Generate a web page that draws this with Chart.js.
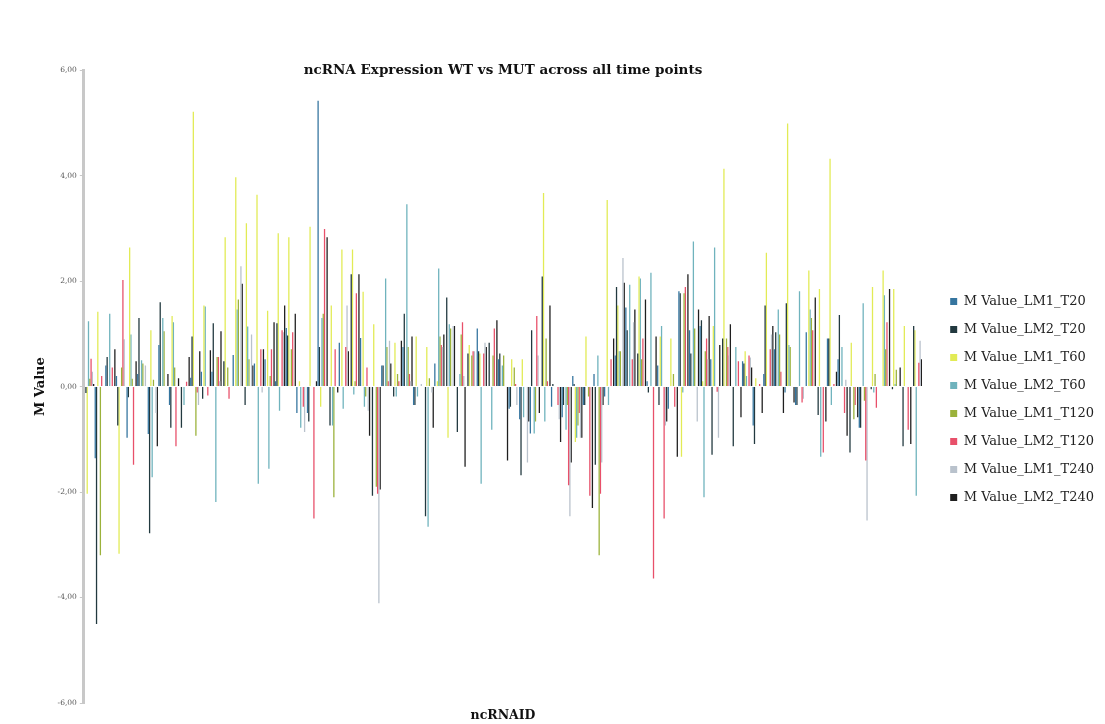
<!DOCTYPE html>
<html>
<head>
<meta charset="utf-8">
<script src="https://cdn.jsdelivr.net/npm/chart.js@4.4.1/dist/chart.umd.min.js"></script>
<style>
html,body{margin:0;padding:0;background:#fff;}
#wrap{width:1105px;height:724px;position:relative;}
</style>
</head>
<body>
<div id="wrap"><canvas id="c" width="1105" height="724"></canvas></div>
<script>
const categories = ['nc01','nc02','nc03','nc04','nc05','nc06','nc07','nc08','nc09','nc10',
'nc11','nc12','nc13','nc14','nc15','nc16','nc17','nc18','nc19','nc20',
'nc21','nc22','nc23','nc24','nc25','nc26','nc27','nc28','nc29','nc30',
'nc31','nc32','nc33','nc34','nc35','nc36','nc37','nc38','nc39','nc40',
'nc41','nc42','nc43','nc44','nc45','nc46','nc47','nc48','nc49','nc50',
'nc51','nc52','nc53','nc54','nc55','nc56','nc57','nc58','nc59','nc60',
'nc61','nc62','nc63','nc64','nc65','nc66','nc67','nc68','nc69','nc70',
'nc71','nc72','nc73','nc74','nc75','nc76','nc77','nc78','nc79'];

const seriesNames = ['M Value_LM1_T20','M Value_LM2_T20','M Value_LM1_T60','M Value_LM2_T60',
'M Value_LM1_T120','M Value_LM2_T120','M Value_LM1_T240','M Value_LM2_T240'];

const LM1_T20 = [0,-1.36,0.4,0.2,-0.97,0.24,-0.9,0.79,-0.35,0,
0.17,0.28,0.28,0,0.6,0,0.44,0.52,0.1,1.11,
-0.5,-0.5,5.42,0,0.83,0,0.92,0,0.4,0,
0.75,-0.35,0,0.44,0,0,0,1.1,0,0.52,
-0.42,-0.62,-0.89,0,-0.38,-0.58,0.2,-0.35,0.24,-0.19,
0.59,1.5,0,0.1,0.4,-0.42,1.81,1.07,1.15,0.52,
0,0,0.48,-0.74,0.24,0.71,-0.11,-0.35,1.03,0,
0.91,0.52,0,-0.78,0,0,0,0,0];

const LM2_T20 = [-0.12,-4.5,0.56,-0.74,-0.2,1.3,-2.78,1.6,-0.78,-0.78,
0.95,-0.23,1.2,0.48,0,-0.35,0,0,1.2,0.97,
0,-0.66,0.75,-0.74,0,2.13,0,-2.07,0.4,-0.19,
1.38,-0.35,-2.46,0,1.69,-0.86,0.63,0.67,0.83,0.63,
-0.38,-1.68,1.07,2.09,0.05,-0.35,0.05,-0.35,-1.48,0,
1.89,1.07,0.63,-0.11,-0.35,0,1.77,0.63,1.26,-1.29,
0.91,-1.13,0.44,-1.09,1.54,1.03,1.58,-0.35,0,-0.54,
0.91,1.36,-1.25,-0.78,-0.05,0,-0.05,-1.13,1.15];

const LM1_T60 = [-2.03,1.42,0,-3.17,2.64,0,1.07,0,1.34,0,
5.21,1.54,0,2.83,3.97,3.1,3.64,1.44,2.91,2.83,
0.1,3.03,-0.38,1.54,2.6,2.6,1.8,1.18,0,0.83,
0,0.95,0.75,0.1,-0.97,0,0.79,0.63,0,0,
0.52,0.52,0,3.67,0,0,-1.05,0.95,0,3.54,
1.54,0,2.09,0,0.95,0.91,-1.33,0,0.1,1.15,
4.13,0,0.67,0.16,2.54,0,4.99,0,2.2,1.85,
4.32,0,0.83,0,1.89,2.2,1.85,1.15,1.07];

const LM2_T60 = [1.24,0,1.38,0,0.99,0.5,-1.72,1.3,1.22,-0.35,
0,1.52,-2.19,0,1.46,1.14,-1.84,-1.56,-0.46,0,
-0.78,0,1.3,-0.74,-0.42,-0.15,-0.38,0,2.05,-0.19,
3.46,-0.19,-2.66,2.24,1.18,0.24,0,-1.84,-0.82,0.4,
0,-0.58,-0.89,-0.66,0,-0.82,-0.97,0,0.59,-0.35,
0.67,1.93,2.05,2.16,1.15,0,-0.11,2.75,-2.1,2.64,
0,0.75,0.2,0,0,1.46,0.79,1.81,1.46,-1.33,
-0.35,0.75,0,1.58,-0.11,1.73,0.05,0,-2.07];

const LM1_T120 = [0.15,-3.2,0,0.36,0.15,0.44,0.13,1.05,0.36,0,
-0.93,0,0.56,0.36,1.65,0.52,0,0.2,0,0.71,
0,0,1.38,-2.1,0,0.1,-0.19,-1.9,0.75,0.24,
0.75,0,0.16,0.95,1.1,0.99,0.59,0,0.59,0.59,
0.36,0,-0.66,0.91,0,-0.35,-0.74,-0.19,-3.2,0,
0.67,0,0.52,0,0,0.24,1.77,1.1,0.67,0,
0.91,0,0,0,0,0.99,0.75,0,1.3,0,
0,0,-0.62,-0.27,0.24,0.71,0.32,0,0];

const LM2_T120 = [0.53,0.2,0.36,2.02,-1.48,0,0,0,-1.13,0.09,
-0.11,-0.17,0.56,-0.23,0,0,0.71,0.71,1.07,1.03,
-0.38,-2.5,2.99,0.71,0.75,1.77,0.36,-2.03,0.1,0.1,
0.24,0,0,0.79,0,1.22,0.67,0.63,1.1,0,
0.05,0,1.34,0.1,-0.35,-1.87,-0.5,-2.07,-2.03,0.52,
0,0.52,0.91,-3.64,-2.5,-0.38,1.89,0,0.91,-0.1,
0.75,0.48,0.59,0.05,0.71,0.28,0,-0.3,1.07,-1.25,
0.05,-0.5,-0.35,-1.4,-0.4,1.22,0,-0.82,0.45];

const LM1_T240 = [0.28,0,0,0.9,0,0.4,-0.5,0,0,0,
-0.35,0,0.1,0,2.28,0.99,-0.11,0,1.03,0,
-0.86,0,0,0,1.54,0,-0.46,-4.11,0.87,0,
0.1,0.05,-0.11,0.75,1.15,0.2,0.67,0.83,0,0,
-0.35,-1.44,0.59,0,-0.62,-2.46,-0.97,0,-1.44,0,
2.44,1.22,0,0,-0.74,0,0,-0.66,0.52,-0.97,
0.59,0,0.55,0,0.99,0,0,-0.23,0,0,
0,0.13,0,-2.54,0,0,0,0,0.87];

const LM2_T240 = [0.05,0,0.71,0,0.48,0,-1.13,0.24,0.16,0.56,
0.67,0.69,1.05,0,1.95,0.4,0.71,1.22,1.54,1.38,
0,0.1,2.83,-0.11,0.67,2.13,-0.93,-1.95,0.44,0.87,
0.95,0,-0.78,0.99,1.15,-1.52,0,0.75,1.26,-1.4,
0,-0.66,-0.5,1.54,-1.05,-1.44,-0.97,-2.3,-0.35,0.91,
1.97,1.46,1.65,0.95,-0.66,-1.33,2.13,1.46,1.34,0.79,
1.18,-0.58,0.36,-0.5,1.15,-0.5,-0.3,0,1.69,-0.66,
0.28,-0.93,-0.58,0,0,1.85,0.36,-1.09,0.52];

const yTicks = [-6,-4,-2,0,2,4,6];

const seriesValues = [LM1_T20,LM2_T20,LM1_T60,LM2_T60,LM1_T120,LM2_T120,LM1_T240,LM2_T240];
const colors = ['#35759f','#22393f','#e2eb55','#6fb3bd','#9bb23b','#e8506a','#b9c2cc','#1f1f1f'];

const serif = "'DejaVu Serif', serif";

const chart = new Chart(document.getElementById('c'), {
  type: 'bar',
  data: {
    labels: categories,
    datasets: seriesValues.map((vals, i) => ({
      label: seriesNames[i],
      data: vals,
      backgroundColor: colors[i],
      borderWidth: 0,
      categoryPercentage: 0.97,
      barPercentage: 1.0
    }))
  },
  options: {
    responsive: false,
    animation: false,
    devicePixelRatio: 1,
    layout: { padding: { left: 33, right: 1, top: 0, bottom: 1 } },
    plugins: {
      title: {
        display: true,
        fullSize: false,
        text: 'ncRNA Expression WT vs MUT across all time points',
        font: { family: serif, size: 13.5, weight: 'bold' },
        color: '#111',
        padding: { top: 62, bottom: -8 }
      },
      legend: {
        position: 'right',
        title: { display: true, text: ' ', font: { size: 10 }, padding: { top: 32, bottom: 32 } },
        labels: {
          font: { family: serif, size: 13 },
          color: '#222',
          boxWidth: 7,
          boxHeight: 7,
          padding: 15
        }
      },
      tooltip: { enabled: false }
    },
    scales: {
      x: {
        grid: { display: false, drawTicks: false },
        border: { display: false },
        ticks: { display: false },
        title: {
          display: true,
          text: 'ncRNAID',
          font: { family: serif, size: 12.5, weight: 'bold' },
          color: '#111',
          padding: { top: 5, bottom: 0 }
        }
      },
      y: {
        min: -6,
        max: 6,
        afterBuildTicks: (axis) => { axis.ticks = yTicks.map(v => ({ value: v })); },
        grid: { display: true, drawOnChartArea: false, drawTicks: true, tickLength: 4, color: '#c8c8c8' },
        border: { display: true, color: '#c8c8c8', width: 3 },
        ticks: {
          font: { family: serif, size: 7.5 },
          color: '#555',
          padding: 3,
          callback: (v) => Number(v).toFixed(2).replace('.', ',')
        },
        title: {
          display: true,
          text: 'M Value',
          font: { family: serif, size: 13, weight: 'bold' },
          color: '#111',
          padding: { top: 0, bottom: 6 }
        }
      },
      gap: {
        type: 'linear',
        position: 'right',
        display: true,
        grid: { display: false, drawTicks: false },
        border: { display: false },
        ticks: { display: false },
        afterFit: (s) => { s.width = 13; }
      }
    }
  }
});
</script>
</body>
</html>
